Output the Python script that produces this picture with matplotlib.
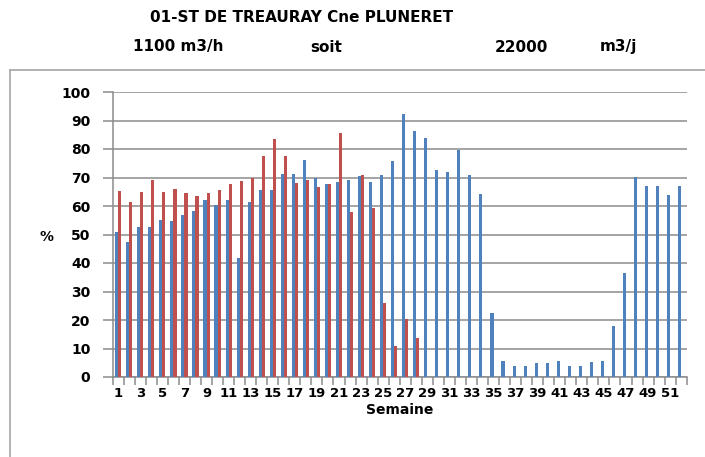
import matplotlib
matplotlib.use("Agg")
import matplotlib.pyplot as plt
from matplotlib.lines import Line2D
from matplotlib.ticker import FixedLocator, NullFormatter
import numpy as np

weeks = list(range(1, 53))
blue_values = [51, 47.5, 52.5, 52.5, 55, 54.7, 56.7, 58.3, 62, 60.5,
               62, 41.8, 61.3, 65.7, 65.7, 71.4, 71.4, 76, 70, 67.8,
               68.4, 69.2, 70.4, 68.5, 71, 75.9, 92.3, 86.4, 83.7, 72.5,
               71.8, 79.8, 71, 64.1, 22.6, 5.5, 3.8, 3.8, 5, 5,
               5.5, 3.8, 3.8, 5.3, 5.5, 17.9, 36.5, 70.1, 67, 67,
               63.9, 67]
red_values = [65.4, 61.5, 65, 69, 65, 66, 64.5, 63.5, 64.5, 65.7,
              67.7, 68.7, 70, 77.6, 83.6, 77.4, 68.2, 69.2, 66.6, 67.8,
              85.6, 58, 71, 59.4, 26, 11, 20.4, 13.8]
y_ticks = list(range(0, 101, 10))
x_labels = [str(w) for w in range(1, 52, 2)]

title1 = "01-ST DE TREAURAY Cne PLUNERET"
sub_texts = ["1100 m3/h", "soit", "22000", "m3/j"]

plt.rcParams['font.family'] = ['Liberation Sans Narrow', 'DejaVu Sans']

W, H = 705, 457
fig = plt.figure(figsize=(W / 100, H / 100), dpi=100)
fig.patch.set_facecolor('white')

ax = fig.add_axes([112.7 / W, (H - 377) / H, (686.7 - 112.7) / W, (377 - 92) / H])

blue = '#4F81BD'
red = '#C0504D'
grid_c = '#8C8C8C'

bw = 0.28
xb = np.arange(len(blue_values))
ax.bar(xb - bw / 2, blue_values, width=bw, color=blue, zorder=3)
xr = np.arange(len(red_values))
ax.bar(xr + bw / 2, red_values, width=bw, color=red, zorder=3)

ax.set_xlim(-0.5, len(weeks) - 0.5)
ax.set_ylim(0, 100)
ax.set_yticks(y_ticks)
ax.set_yticklabels([str(v) for v in y_ticks], fontsize=10, fontweight='bold')
ax.yaxis.grid(True, color=grid_c, linewidth=1.1, zorder=0)
ax.set_axisbelow(True)

ax.set_xticks(np.arange(0, len(weeks), 2))
ax.set_xticklabels(x_labels, fontsize=9.5, fontweight='bold')
ax.xaxis.set_minor_locator(FixedLocator(np.arange(-0.5, len(weeks), 1.0)))
ax.xaxis.set_minor_formatter(NullFormatter())
ax.tick_params(axis='x', which='major', length=0, pad=7)
ax.tick_params(axis='x', which='minor', length=6, color=grid_c, width=1.1)
ax.tick_params(axis='y', length=7, color=grid_c, width=1.1, pad=9)

for s in ['top', 'right']:
    ax.spines[s].set_visible(False)
for s in ['left', 'bottom']:
    ax.spines[s].set_color(grid_c)
    ax.spines[s].set_linewidth(1.1)

ax.set_xlabel('Semaine', fontsize=10, fontweight='bold', labelpad=2)
fig.text(47 / W, 1 - 237 / H, '%', fontsize=10, fontweight='bold', ha='center', va='center')

fig.text(302 / W, 1 - 17 / H, title1, fontsize=11, fontweight='bold', ha='center', va='center')
sub_x = [178, 326, 521, 618]
for x, t in zip(sub_x, sub_texts):
    fig.text(x / W, 1 - 47 / H, t, fontsize=11, fontweight='bold', ha='center', va='center')

# outer frame
frame_c = '#A6A6A6'
fig.add_artist(Line2D([10 / W, 10 / W], [0, 1 - 70 / H], transform=fig.transFigure, color=frame_c, linewidth=1.2))
fig.add_artist(Line2D([10 / W, 1], [1 - 70 / H, 1 - 70 / H], transform=fig.transFigure, color=frame_c, linewidth=1.2))

fig.savefig('out.png', dpi=100)
